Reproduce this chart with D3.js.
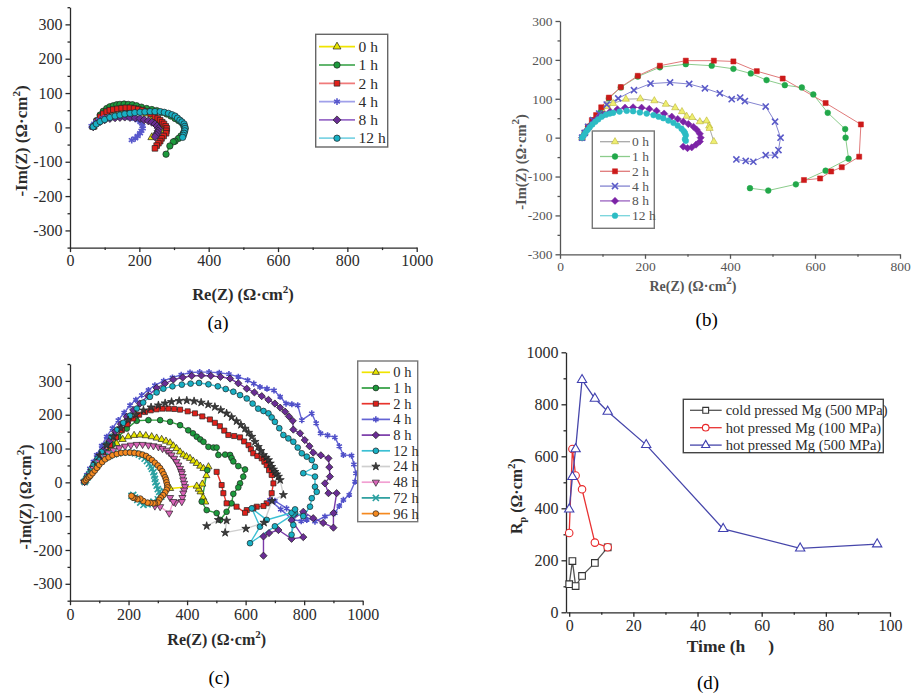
<!DOCTYPE html>
<html>
<head>
<meta charset="utf-8">
<script src="https://cdn.jsdelivr.net/npm/d3@7"></script>
<style>
  body { margin: 0; background: #fff; }
  text { font-family: "Liberation Serif", "Times New Roman", serif; }
</style>
</head>
<body>
<svg id="fig" width="914" height="695"></svg>
<script>
// ---------- data: panel (a), Nyquist, [Re, -Im] ----------
let aNames = ["0 h", "1 h", "2 h", "4 h", "8 h", "12 h"];
let a0h = [[67,2],[87,28],[106,42],[125,48],[149,52],[173,52],[197,48],[221,40],[240,30],[255,18],[262,5],[260,-8],[250,-20],[236,-29]];
let a1h = [[67,2],[77,20],[87,36],[96,47],[106,55],[115,60],[125,63],[135,66],[144,67],[156,68],[168,67],[180,66],[192,63],[206,59],[221,55],[236,52],[250,49],[265,44],[279,39],[291,33],[303,26],[313,20],[322,14],[328,5],[332,-3],[330,-10],[327,-17],[320,-25],[313,-32],[303,-40],[298,-42],[288,-54],[277,-78]];
let a2h = [[67,2],[77,17],[87,31],[96,40],[106,46],[115,50],[125,52],[137,54],[149,56],[161,57],[173,57],[185,55],[197,53],[209,50],[221,46],[233,39],[245,31],[253,26],[260,21],[266,15],[271,10],[276,3],[279,-3],[278,-10],[277,-17],[270,-25],[264,-32],[260,-40],[255,-46],[250,-53],[245,-61]];
let a4h = [[62,4],[70,11],[77,17],[86,22],[96,26],[110,29],[125,31],[140,33],[154,33],[166,31],[178,29],[188,25],[197,21],[203,16],[207,12],[209,4],[210,-3],[206,-10],[202,-17],[195,-25],[188,-32],[178,-37]];
let a8h = [[67,2],[76,10],[87,17],[100,22],[115,26],[130,28],[144,29],[158,30],[173,29],[188,28],[202,26],[214,22],[226,19],[236,15],[245,10],[251,4],[255,-3],[254,-10],[252,-16],[249,-22],[245,-27]];
let a12h = [[67,2],[76,10],[87,17],[100,23],[115,29],[130,33],[144,36],[158,39],[173,41],[187,43],[202,44],[216,45],[231,46],[245,46],[260,46],[272,44],[284,41],[294,37],[303,33],[310,27],[317,21],[323,16],[329,10],[331,3],[332,-3],[331,-10],[329,-17],[327,-23],[325,-29]];

// ---------- data: panel (b) ----------
let bNames = ["0 h", "1 h", "2 h", "4 h", "8 h", "12 h"];
let b0h = [[52,0],[58,12],[65,25],[75,40],[88,55],[100,70],[112,80],[125,88],[155,99],[189,100],[222,95],[249,86],[271,77],[287,67],[298,55],[311,52],[329,41],[345,43],[351,30],[352,24],[362,-10]];
let b1h = [[52,0],[58,12],[66,28],[78,45],[95,65],[115,101],[143,129],[183,157],[235,181],[296,189],[357,185],[408,177],[449,165],[486,148],[529,135],[569,129],[596,111],[630,64],[671,22],[672,0],[679,-54],[625,-85],[555,-120],[490,-136],[447,-130]];
let b2h = [[52,0],[58,12],[66,28],[75,45],[85,58],[97,78],[115,103],[143,130],[183,159],[235,185],[296,198],[362,198],[408,196],[463,171],[524,152],[625,89],[708,34],[704,-49],[663,-76],[638,-87],[612,-105],[574,-109]];
let b4h = [[52,0],[58,12],[66,28],[78,45],[92,62],[110,85],[137,101],[174,122],[213,139],[259,142],[304,138],[341,127],[376,114],[404,99],[424,103],[435,94],[484,80],[506,41],[519,0],[514,-32],[506,-45],[484,-45],[455,-62],[437,-60],[415,-56]];
let b8h = [[52,0],[57,8],[62,18],[70,30],[80,42],[92,52],[104,60],[118,67],[135,73],[153,77],[172,78],[192,77],[210,74],[227,69],[245,62],[263,54],[277,48],[290,41],[302,35],[314,28],[322,20],[329,10],[331,0],[329,-10],[320,-18],[310,-25],[300,-27],[290,-23]];
let b12h = [[52,0],[56,6],[60,13],[65,20],[70,27],[76,34],[83,41],[90,47],[98,54],[108,59],[117,62],[125,64],[140,67],[157,69],[172,68],[188,65],[204,62],[220,58],[232,54],[243,50],[255,44],[267,38],[277,31],[286,23],[291,17],[294,12],[296,6],[294,-4],[296,-8]];

// ---------- data: panel (c) ----------
let cNames = ["0 h", "1 h", "2 h", "4 h", "8 h", "12 h", "24 h", "48 h", "72 h", "96 h"];
let c0h = [[50,2],[62,18],[75,32],[91,46],[108,68],[125,86],[142,102],[159,115],[180,127],[199,135],[219,139],[239,140],[259,138],[279,135],[296,131],[313,127],[328,122],[342,117],[353,108],[364,100],[376,90],[387,81],[398,76],[410,71],[421,63],[433,56],[445,48],[456,41],[473,46],[466,20],[452,-5],[446,-28],[455,-45],[462,-58],[440,-20],[433,-11],[342,-18]];
let c1h = [[50,2],[60,15],[72,30],[85,46],[105,68],[125,90],[145,112],[165,135],[194,159],[228,182],[268,184],[308,184],[342,179],[376,169],[404,154],[420,145],[433,135],[445,127],[456,120],[473,105],[490,103],[501,103],[507,81],[530,82],[547,81],[552,72],[558,62],[575,48],[598,38],[592,17],[581,-3],[575,-15],[558,-34],[552,-62],[535,-87],[513,-111],[501,-91],[467,-82],[450,-57],[469,36]];
let c2h = [[50,2],[62,20],[75,38],[91,56],[113,82],[137,110],[157,133],[177,154],[196,172],[216,189],[236,200],[256,208],[276,213],[296,216],[316,218],[336,218],[356,217],[376,215],[402,210],[427,204],[452,195],[478,186],[495,176],[512,166],[527,153],[541,140],[561,137],[581,133],[595,121],[610,110],[618,98],[626,86],[640,78],[655,71],[664,61],[672,51],[680,36],[689,22],[695,-3],[689,-32],[672,-62],[661,-70],[638,-72],[626,-77],[604,-82],[598,-90],[569,-72],[535,-62],[524,-32],[518,-8],[501,31]];
let c4h = [[46,3],[57,22],[68,41],[80,61],[91,81],[108,108],[125,135],[145,160],[165,184],[185,206],[205,228],[225,244],[245,258],[268,273],[290,287],[320,300],[350,310],[380,318],[410,325],[443,326],[475,326],[510,324],[543,320],[575,312],[607,302],[628,292],[649,282],[673,277],[697,272],[718,253],[738,233],[758,231],[778,228],[792,184],[826,204],[841,175],[856,145],[880,139],[905,133],[920,107],[934,81],[962,79],[970,53],[977,27],[974,2],[954,-37],[934,-52],[920,-70],[905,-91],[871,-101],[837,-116],[803,-101],[763,-91],[740,-77],[700,-55],[683,-52],[720,-80],[760,-110],[790,-115],[809,-111]];
let c8h = [[50,2],[62,18],[72,31],[80,46],[97,70],[114,95],[134,122],[154,150],[174,172],[194,194],[216,214],[239,233],[267,256],[296,279],[324,292],[353,304],[385,310],[416,315],[449,316],[481,315],[514,312],[547,307],[575,293],[604,277],[630,266],[655,255],[678,244],[700,233],[718,221],[735,209],[748,195],[761,182],[763,156],[786,145],[802,125],[818,107],[831,88],[857,80],[883,71],[886,45],[888,17],[871,-3],[883,-32],[911,-32],[900,-91],[900,-134],[865,-120],[831,-106],[797,-87],[757,-112],[797,-162],[757,-167],[712,-141],[680,-150],[661,-160],[661,-217]];
let c12h = [[50,2],[60,15],[70,30],[80,51],[94,70],[108,90],[125,112],[142,135],[162,156],[182,176],[205,197],[228,218],[250,236],[273,253],[296,266],[319,277],[350,284],[382,289],[412,292],[441,294],[473,290],[505,284],[532,276],[558,268],[581,258],[604,248],[624,233],[643,218],[661,211],[678,204],[689,192],[700,179],[715,160],[729,140],[746,130],[763,120],[778,103],[792,86],[809,76],[826,66],[837,46],[797,27],[837,17],[837,-13],[843,-28],[826,-47],[820,-72],[797,-100],[769,-91],[763,-126],[757,-155],[763,-95],[700,-130],[615,-180],[649,-131],[621,-77],[672,-111],[757,-90],[769,-80]];
let c24h = [[50,2],[62,18],[75,36],[90,58],[102,80],[125,110],[148,135],[174,160],[199,184],[225,200],[251,213],[277,222],[302,228],[325,234],[347,238],[373,241],[399,242],[424,240],[448,236],[472,230],[495,223],[515,214],[535,204],[552,193],[569,181],[584,170],[598,159],[610,147],[621,135],[632,120],[643,105],[652,93],[661,81],[670,73],[678,66],[684,56],[689,46],[695,38],[700,31],[706,24],[712,17],[718,7],[729,-37],[690,-55],[663,-119],[601,-137],[530,-149],[535,-113],[507,-111],[467,-129]];
let c48h = [[50,2],[58,12],[68,25],[80,41],[97,60],[114,76],[131,87],[148,95],[168,102],[188,107],[208,110],[228,112],[248,112],[268,110],[285,108],[302,105],[316,100],[330,95],[339,88],[347,81],[356,71],[364,61],[370,51],[376,41],[380,32],[382,27],[385,17],[387,7],[390,-3],[393,-13],[390,-23],[387,-32],[384,-45],[382,-57],[360,-60],[342,-45],[353,-57],[339,-91],[308,-72],[290,-70]];
let c72h = [[50,2],[55,8],[60,15],[67,24],[75,35],[85,45],[95,55],[107,63],[120,72],[135,78],[150,83],[165,86],[180,88],[195,89],[210,88],[222,86],[235,82],[245,77],[255,70],[263,63],[270,55],[276,47],[280,40],[285,30],[288,20],[290,10],[292,0],[296,-10],[300,-20],[305,-28],[310,-35],[320,-25],[312,-42],[300,-50],[285,-57],[275,-62],[265,-65],[251,-67],[240,-60],[230,-52],[222,-45],[216,-37],[210,-40]];
let c96h = [[50,3],[55,7],[60,12],[65,16],[70,20],[77,27],[85,35],[92,43],[100,52],[110,60],[120,68],[132,74],[145,80],[160,84],[175,87],[190,88],[205,88],[220,87],[235,85],[248,82],[260,78],[270,72],[280,66],[290,58],[300,50],[308,42],[315,33],[320,24],[325,15],[328,8],[330,0],[332,-8],[333,-15],[330,-22],[325,-30],[318,-38],[310,-45],[305,-52],[300,-60],[290,-62],[285,-62],[275,-61],[265,-60],[250,-55],[240,-48],[230,-50],[220,-46],[215,-45],[210,-40]];

// ---------- data: panel (d), Rp vs time ----------
let dNames = ["cold pressed Mg (500 MPa)", "hot pressed Mg (100 MPa)", "hot pressed Mg (500 MPa)"];
let dColdTime = [0, 1, 2, 4, 8, 12];
let dColdRp = [108, 197, 101, 140, 190, 250];
let dHot100Time = [0, 1, 2, 4, 8, 12];
let dHot100Rp = [305, 628, 526, 473, 268, 250];
let dHot500Time = [0, 1, 2, 4, 8, 12, 24, 48, 72, 96];
let dHot500Rp = [396, 521, 628, 894, 822, 772, 644, 321, 246, 262];

// ---------- styles ----------
let origin = {
  "0 h":  {line: "#f0e400", fill: "#e8e400", sym: "tri"},
  "1 h":  {line: "#2f9e3f", fill: "#1c9a3c", sym: "circle"},
  "2 h":  {line: "#e8342c", fill: "#e0201a", sym: "square"},
  "4 h":  {line: "#6464d4", fill: "#5050c8", sym: "ast"},
  "8 h":  {line: "#7a3aa8", fill: "#6a2d95", sym: "diamond"},
  "12 h": {line: "#3cc0d4", fill: "#18b0c4", sym: "circle"},
  "24 h": {line: "#cfcfcf", fill: "#3a3a3a", sym: "star"},
  "48 h": {line: "#f2a0d2", fill: "#d864b8", sym: "invtri"},
  "72 h": {line: "#289c9c", fill: "#2aa0a0", sym: "x"},
  "96 h": {line: "#f5891f", fill: "#f5891f", sym: "circle"}
};
let bStyle = {
  "0 h":  {line: "#a8a8a8", fill: "#eeee70", stroke: "#b0a820", sym: "tri"},
  "1 h":  {line: "#8ccc8c", fill: "#22a84a", stroke: "#22a84a", sym: "circle"},
  "2 h":  {line: "#e07a7a", fill: "#cc1a1a", stroke: "#cc1a1a", sym: "square"},
  "4 h":  {line: "#8484d0", fill: "#5a5ac8", stroke: "#5a5ac8", sym: "x"},
  "8 h":  {line: "#9a62c0", fill: "#7b22a6", stroke: "#7b22a6", sym: "diamond"},
  "12 h": {line: "#78d4dc", fill: "#2cbcc4", stroke: "#2cbcc4", sym: "circle"}
};
let dStyle = [
  {line: "#555555", stroke: "#333333", sym: "square"},
  {line: "#e83232", stroke: "#e8282a", sym: "circle"},
  {line: "#4646aa", stroke: "#4040b0", sym: "tri"}
];

let svg = d3.select("#fig");
let font = "Liberation Serif, Times New Roman, serif";

function symPath(type, size) {
  // diamond is drawn as a square turned 45 degrees (Origin style), see drawMarker
  let t = {tri: d3.symbolTriangle, invtri: d3.symbolTriangle, circle: d3.symbolCircle, square: d3.symbolSquare,
           diamond: d3.symbolSquare, star: d3.symbolStar, ast: d3.symbolAsterisk, x: d3.symbolTimes}[type];
  // triangles and stars look bigger than circles at the same area
  let k = (type === "tri" || type === "invtri") ? 0.85 : type === "star" ? 0.8 : 1;
  return d3.symbol().type(t).size(size * k)();
}
let strokeSym = s => s === "ast" || s === "x";

function drawMarker(g, cx, cy, st, size, hollow) {
  let rot = st.sym === "invtri" ? " rotate(180)" : st.sym === "diamond" ? " rotate(45)" : "";
  let p = g.append("path").attr("d", symPath(st.sym, size))
    .attr("transform", `translate(${cx},${cy})` + rot);
  if (strokeSym(st.sym)) {
    p.attr("fill", "none").attr("stroke", st.fill).attr("stroke-width", 1.6);
  } else if (hollow) {
    p.attr("fill", "#fff").attr("stroke", st.stroke).attr("stroke-width", 1.1);
  } else {
    p.attr("fill", st.fill).attr("stroke", st.stroke || "#222").attr("stroke-width", st.stroke ? 0.5 : 0.7);
  }
}

function drawAxes(o) {
  let g = svg.append("g");
  let x0 = o.y.range()[0], yLeft = o.x.range()[0];
  let minX = d3.axisBottom(o.x).tickValues(o.xMinor).tickSize(2.5).tickFormat("");
  let minY = d3.axisLeft(o.y).tickValues(o.yMinor).tickSize(2.5).tickFormat("");
  g.append("g").attr("transform", `translate(0,${x0})`).call(minX).call(s => s.select(".domain").remove());
  g.append("g").attr("transform", `translate(${yLeft},0)`).call(minY).call(s => s.select(".domain").remove());
  g.append("g").attr("transform", `translate(0,${x0})`)
    .call(d3.axisBottom(o.x).tickValues(o.xMajor).tickSize(4.5).tickSizeOuter(0).tickPadding(3).tickFormat(d => String(d)));
  g.append("g").attr("transform", `translate(${yLeft},0)`)
    .call(d3.axisLeft(o.y).tickValues(o.yMajor).tickSize(4.5).tickSizeOuter(0).tickPadding(3).tickFormat(d => String(d)));
  g.selectAll("path, line").attr("stroke", o.axisColor).attr("stroke-width", 1.3);
  g.selectAll("text").attr("font-family", font).attr("font-size", o.fs).attr("fill", o.textColor);
  return g;
}

function supLabel(g, x, y, parts, fs, rotate, color, weight) {
  let t = g.append("text").attr("x", x).attr("y", y).attr("text-anchor", "middle")
    .attr("font-size", fs).attr("font-weight", weight).attr("fill", color);
  if (rotate) t.attr("transform", `rotate(-90,${x},${y})`);
  parts.forEach(p => {
    t.append("tspan").text(p.t).attr("dy", p.dy || 0).attr("font-size", p.fs || fs);
  });
  return t;
}

let reLabel = [{t: "Re(Z) (Ω·cm"}, {t: "2", dy: -7, fs: 11}, {t: ")", dy: 7}];
let imLabel = [{t: "-Im(Z) (Ω·cm"}, {t: "2", dy: -7, fs: 11}, {t: ")", dy: 7}];

function nyquist(o) {
  let x = d3.scaleLinear().domain(o.xDom).range(o.xRange);
  let y = d3.scaleLinear().domain(o.yDom).range(o.yRange);
  drawAxes({x, y, xMajor: o.xMajor, xMinor: o.xMinor, yMajor: o.yMajor, yMinor: o.yMinor,
            fs: o.fs, axisColor: o.axisColor, textColor: o.textColor});
  let line = d3.line().x(d => x(d[0])).y(d => y(d[1]));
  let g = svg.append("g");
  o.series.forEach((s, i) => {
    let st = o.styles[o.names[i]];
    g.append("path").datum(s).attr("d", line).attr("fill", "none")
      .attr("stroke", st.line).attr("stroke-width", o.lw);
  });
  o.series.forEach((s, i) => {
    let st = o.styles[o.names[i]];
    s.forEach(d => drawMarker(g, x(d[0]), y(d[1]), st, o.msize));
  });
  // legend
  let L = o.legend;
  let lg = svg.append("g");
  lg.append("rect").attr("x", L.x).attr("y", L.y).attr("width", L.w).attr("height", L.h)
    .attr("fill", "#fff").attr("stroke", L.border).attr("stroke-width", 1.4);
  o.names.forEach((n, i) => {
    let st = o.styles[n], yy = L.y0 + i * L.dy;
    lg.append("line").attr("x1", L.lx1).attr("x2", L.lx2).attr("y1", yy).attr("y2", yy)
      .attr("stroke", st.line).attr("stroke-width", o.lw + 0.3);
    drawMarker(lg, (L.lx1 + L.lx2) / 2, yy, st, o.msize);
    lg.append("text").attr("x", L.tx).attr("y", yy + L.fs * 0.34).text(n)
      .attr("font-size", L.fs).attr("fill", L.color);
  });
}

// ---------- panel (a) ----------
nyquist({
  xDom: [0, 1000], xRange: [70, 416.7], yDom: [-350, 350], yRange: [247.6, 7.2],
  xMajor: d3.range(0, 1001, 200), xMinor: d3.range(100, 1000, 200),
  yMajor: d3.range(-300, 301, 100), yMinor: d3.range(-350, 351, 100),
  fs: 16, axisColor: "#2a2a2a", textColor: "#2b2b2b",
  names: aNames, series: [a0h, a1h, a2h, a4h, a8h, a12h], lw: 1.4, msize: 32,
  styles: Object.assign({}, origin, {"4 h": {line: "#a0a0ea", fill: "#5858cc", sym: "ast"},
                                     "8 h": {line: "#9a6cc8", fill: "#6a2d95", sym: "diamond"},
                                     "12 h": {line: "#7fd4e4", fill: "#18b0c4", sym: "circle"},
                                     "2 h": {line: "#f07a7a", fill: "#e0201a", sym: "square"}}),
  legend: {x: 315.7, y: 34.3, w: 72, h: 112.7, y0: 46.7, dy: 18.3, lx1: 319, lx2: 355, tx: 358.5,
           fs: 15.5, color: "#2b2b2b", border: "#666"}
});
let ga = svg.append("g");
supLabel(ga, 243, 300, reLabel, 16.5, false, "#2b2b2b", "bold");
supLabel(ga, 27, 141, imLabel, 17, true, "#2b2b2b", "bold");
ga.append("text").attr("x", 218).attr("y", 329).attr("text-anchor", "middle").attr("font-size", 19).text("(a)");

// ---------- panel (b) ----------
nyquist({
  xDom: [0, 800], xRange: [560, 900], yDom: [-300, 300], yRange: [254.3, 21],
  xMajor: d3.range(0, 801, 200), xMinor: d3.range(100, 800, 200),
  yMajor: d3.range(-300, 301, 100), yMinor: d3.range(-250, 300, 100),
  fs: 13.5, axisColor: "#555", textColor: "#555",
  names: bNames, series: [b0h, b1h, b2h, b4h, b8h, b12h], lw: 1, msize: 26, styles: bStyle,
  legend: {x: 592.3, y: 131, w: 62, h: 97.3, y0: 141.7, dy: 14.8, lx1: 600, lx2: 630, tx: 632,
           fs: 13.5, color: "#555", border: "#777"}
});
let gb = svg.append("g");
supLabel(gb, 693, 291, reLabel, 14, false, "#555", "bold");
supLabel(gb, 526, 162, imLabel, 14.5, true, "#555", "bold");
gb.append("text").attr("x", 706.7).attr("y", 326).attr("text-anchor", "middle").attr("font-size", 19).text("(b)");

// ---------- panel (c) ----------
nyquist({
  xDom: [0, 1000], xRange: [70, 362.7], yDom: [-350, 350], yRange: [600.7, 364],
  xMajor: d3.range(0, 1001, 200), xMinor: d3.range(100, 1000, 200),
  yMajor: d3.range(-300, 301, 100), yMinor: d3.range(-350, 351, 100),
  fs: 16, axisColor: "#2a2a2a", textColor: "#2b2b2b",
  names: cNames, series: [c0h, c1h, c2h, c4h, c8h, c12h, c24h, c48h, c72h, c96h], lw: 1.4, msize: 26,
  styles: origin,
  legend: {x: 357.7, y: 361, w: 60, h: 160.7, y0: 372.3, dy: 15.7, lx1: 361.7, lx2: 390, tx: 393.3,
           fs: 14.5, color: "#2b2b2b", border: "#777"}
});
let gc = svg.append("g");
supLabel(gc, 216.7, 645, reLabel, 16, false, "#2b2b2b", "bold");
supLabel(gc, 31, 497, imLabel, 16, true, "#2b2b2b", "bold");
gc.append("text").attr("x", 219).attr("y", 684).attr("text-anchor", "middle").attr("font-size", 19).text("(c)");

// ---------- panel (d) ----------
let dx = d3.scaleLinear().domain([-1, 100]).range([566, 890]);
let dy = d3.scaleLinear().domain([0, 1000]).range([612.3, 352.3]);
drawAxes({x: dx, y: dy, xMajor: d3.range(0, 101, 20), xMinor: d3.range(10, 100, 20),
          yMajor: d3.range(0, 1001, 200), yMinor: d3.range(100, 1000, 200),
          fs: 16, axisColor: "#2a2a2a", textColor: "#2b2b2b"});
let dSeries = [[dColdTime, dColdRp], [dHot100Time, dHot100Rp], [dHot500Time, dHot500Rp]];
let dline = d3.line().x(d => dx(d[0])).y(d => dy(d[1]));
let gd = svg.append("g");
dSeries.forEach((s, i) => {
  let pts = s[0].map((t, k) => [t, s[1][k]]);
  gd.append("path").datum(pts).attr("d", dline).attr("fill", "none")
    .attr("stroke", dStyle[i].line).attr("stroke-width", 1.3);
  pts.forEach(p => drawMarker(gd, dx(p[0]), dy(p[1]), dStyle[i], 44, true));
});
gd.append("rect").attr("x", 683.3).attr("y", 399.3).attr("width", 200).attr("height", 53.4)
  .attr("fill", "#fff").attr("stroke", "#444").attr("stroke-width", 1.4);
dNames.forEach((n, i) => {
  let yy = 410.3 + i * 17.4;
  gd.append("line").attr("x1", 690).attr("x2", 721.7).attr("y1", yy).attr("y2", yy)
    .attr("stroke", dStyle[i].line).attr("stroke-width", 1.3);
  drawMarker(gd, 705.7, yy, dStyle[i], 34, true);
  gd.append("text").attr("x", 725.7).attr("y", yy + 5).attr("font-size", 14.5).attr("fill", "#2b2b2b").text(n);
});
gd.append("text").attr("x", 686.7).attr("y", 652).attr("font-size", 17.5).attr("font-weight", "bold").attr("fill", "#2b2b2b").text("Time (h");
gd.append("text").attr("x", 768.3).attr("y", 652).attr("font-size", 17.5).attr("font-weight", "bold").attr("fill", "#2b2b2b").text(")");
supLabel(gd, 522, 496, [{t: "R"}, {t: "p", dy: 4, fs: 10}, {t: " (Ω·cm", dy: -4}, {t: "2", dy: -7, fs: 11}, {t: ")", dy: 7}],
         16, true, "#2b2b2b", "bold");
gd.append("text").attr("x", 708).attr("y", 689).attr("text-anchor", "middle").attr("font-size", 19).text("(d)");
</script>
</body>
</html>
